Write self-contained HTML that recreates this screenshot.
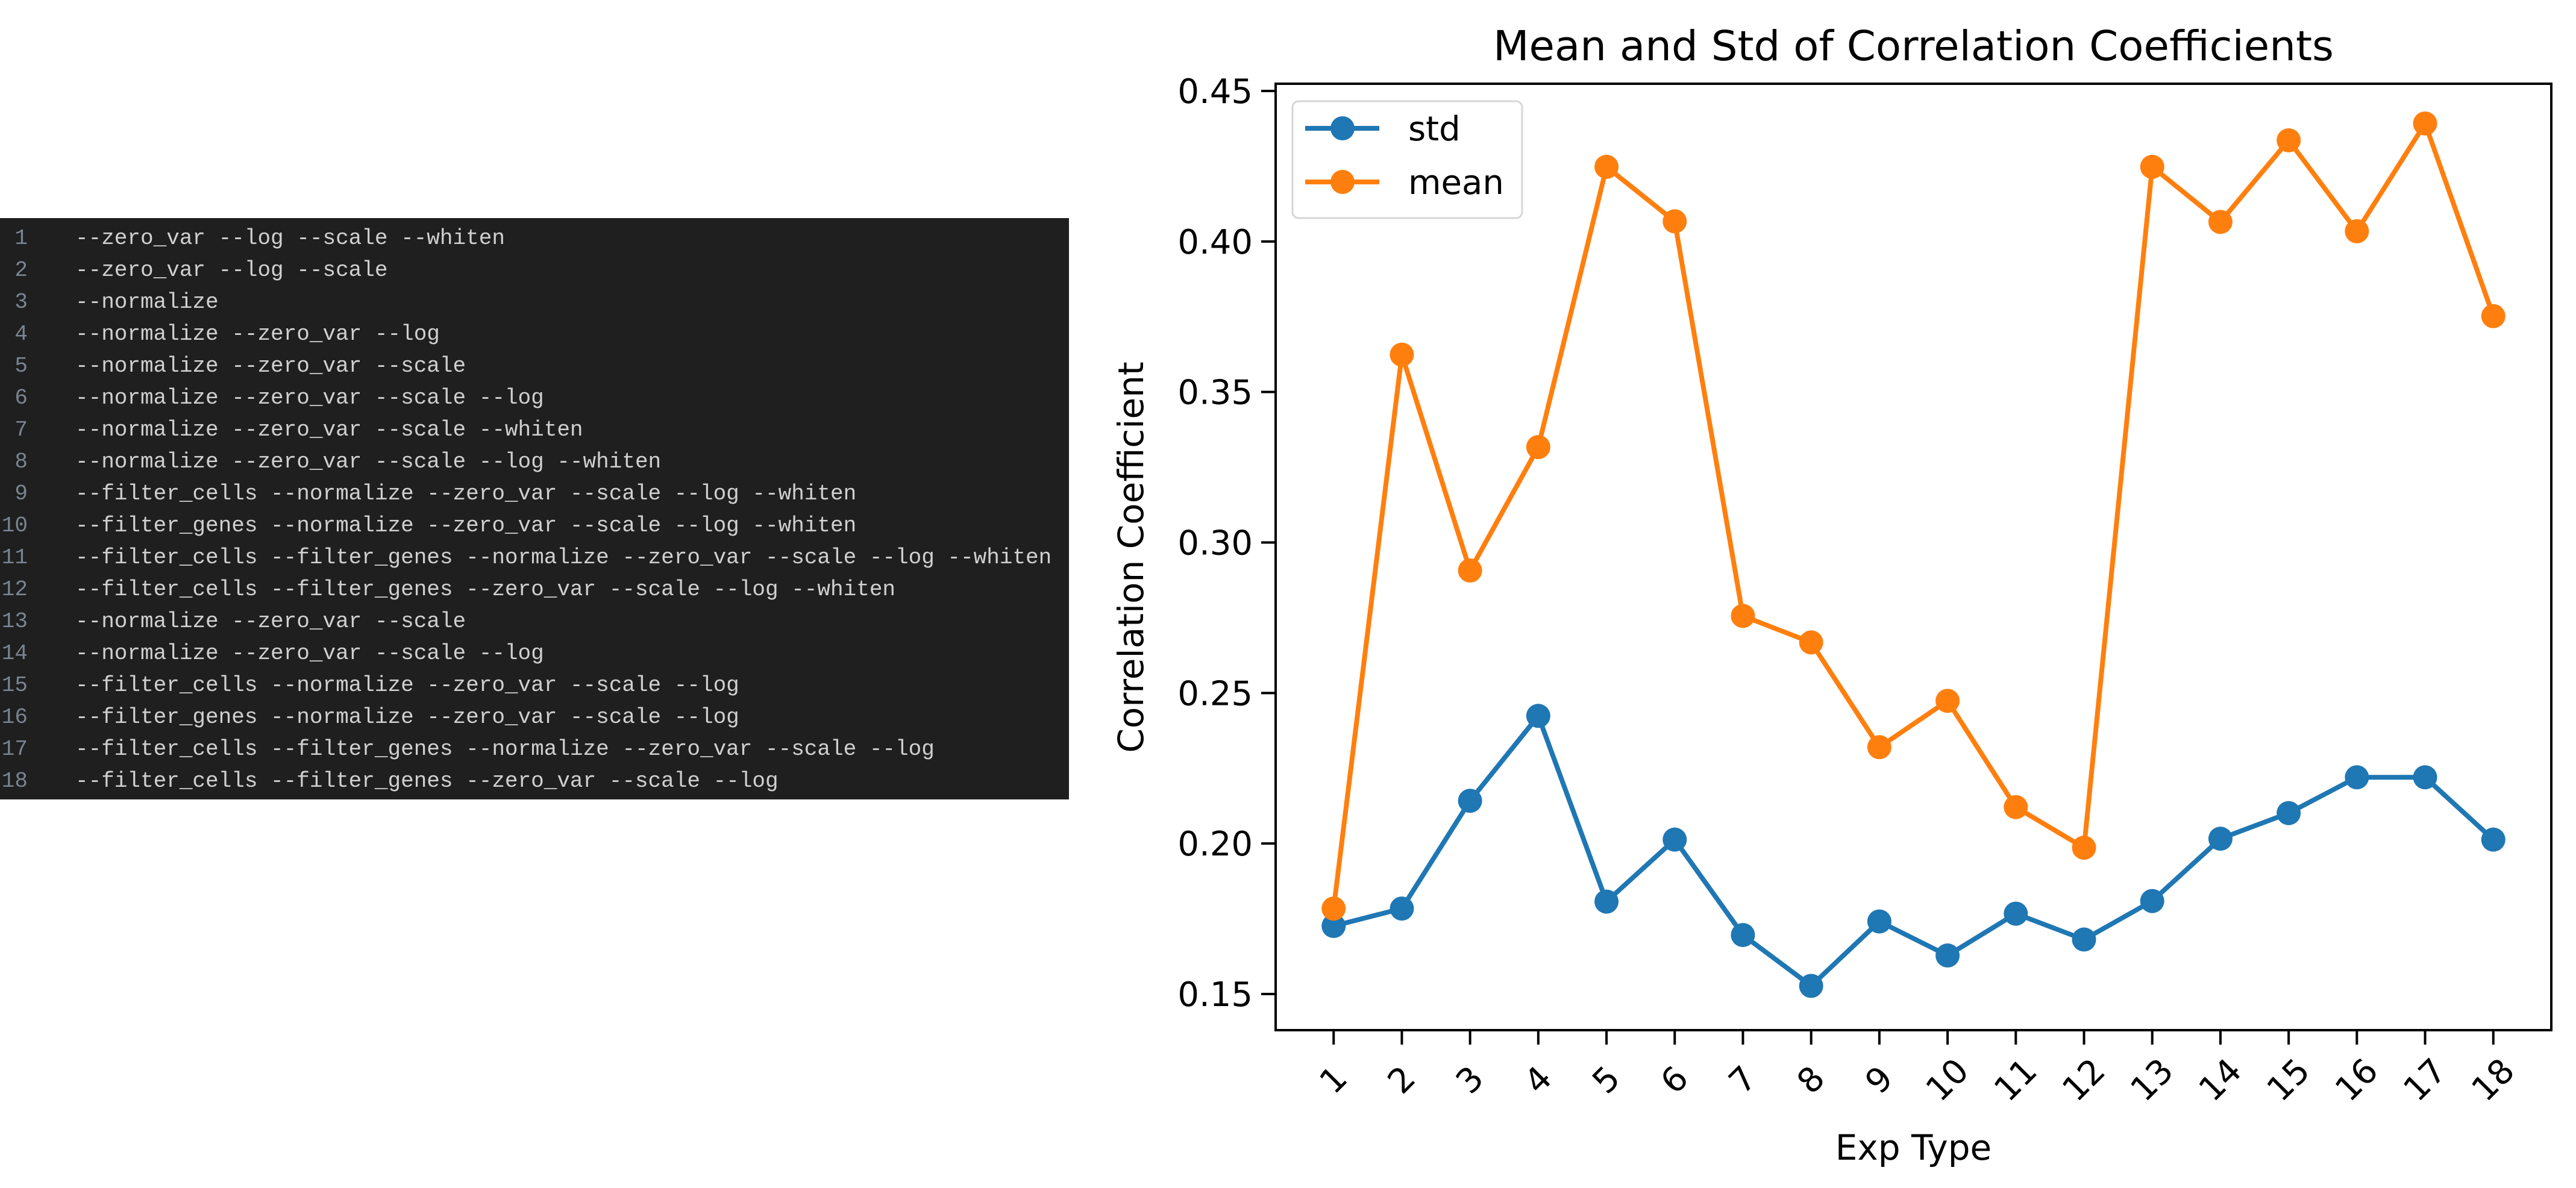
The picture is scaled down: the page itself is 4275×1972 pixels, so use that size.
<!DOCTYPE html>
<html><head><meta charset="utf-8"><style>
html,body{margin:0;padding:0;background:#fff;}
body{width:4275px;height:1972px;position:relative;overflow:hidden;}
#code{position:absolute;left:0;top:362px;width:1774px;height:965px;background:#1e1f1e;}
.ln{position:absolute;left:0;height:53px;font-family:"Liberation Mono","DejaVu Sans Mono",monospace;font-size:36px;white-space:pre;}
.num{position:absolute;left:0;width:46px;text-align:right;color:#7b8491;}
.txt{position:absolute;left:125px;color:#d0d0d0;}
svg{position:absolute;left:0;top:0;}
</style></head><body>
<div id="code"></div>
<svg id="chart" width="4275" height="1972"></svg>
<script>
const lines = [
"--zero_var --log --scale --whiten",
"--zero_var --log --scale",
"--normalize",
"--normalize --zero_var --log",
"--normalize --zero_var --scale",
"--normalize --zero_var --scale --log",
"--normalize --zero_var --scale --whiten",
"--normalize --zero_var --scale --log --whiten",
"--filter_cells --normalize --zero_var --scale --log --whiten",
"--filter_genes --normalize --zero_var --scale --log --whiten",
"--filter_cells --filter_genes --normalize --zero_var --scale --log --whiten",
"--filter_cells --filter_genes --zero_var --scale --log --whiten",
"--normalize --zero_var --scale",
"--normalize --zero_var --scale --log",
"--filter_cells --normalize --zero_var --scale --log",
"--filter_genes --normalize --zero_var --scale --log",
"--filter_cells --filter_genes --normalize --zero_var --scale --log",
"--filter_cells --filter_genes --zero_var --scale --log"
];
const categories = [1,2,3,4,5,6,7,8,9,10,11,12,13,14,15,16,17,18];
const stdValues = [0.1726,0.1784,0.2142,0.2424,0.1807,0.2013,0.1696,0.1527,0.1741,0.1628,0.1767,0.1681,0.1809,0.2016,0.2101,0.2220,0.2220,0.2013];
const meanValues = [0.1784,0.3624,0.2907,0.3317,0.4248,0.4067,0.2756,0.2668,0.2320,0.2474,0.2121,0.1986,0.4248,0.4065,0.4336,0.4034,0.4392,0.3752];
const yTicks = [0.15,0.20,0.25,0.30,0.35,0.40,0.45];
const yTickLabels = ["0.15","0.20","0.25","0.30","0.35","0.40","0.45"];

const code = document.getElementById('code');
lines.forEach((t,i)=>{
  const d = document.createElement('div');
  d.className='ln';
  d.style.top = (13 + i*53) + 'px';
  
  
  const n = document.createElement('span'); n.className='num'; n.textContent = i+1;
  const s = document.createElement('span'); s.className='txt'; s.textContent = t;
  d.appendChild(n); d.appendChild(s); code.appendChild(d);
});

const NS='http://www.w3.org/2000/svg';
const svg=document.getElementById('chart');
const L=2117,R=4234,T=139,B=1710;
const unit=(R-L)/18.7;
const xs = v => L + (v - 1 + 0.85)*unit;
const ys = v => 151 + (0.45 - v)*(1499/0.30);
function el(tag, attrs, name, txt){
  const e=document.createElementNS(NS,tag);
  for(const k in attrs) e.setAttribute(k, attrs[k]);
  
  
  if(txt!==undefined) e.textContent=txt;
  svg.appendChild(e); return e;
}
const F='"DejaVu Sans","Liberation Sans",sans-serif';
el('text',{x:(L+R)/2,y:100,'text-anchor':'middle','font-family':F,'font-size':69,fill:'#000'},'chart-title','Mean and Std of Correlation Coefficients');
yTicks.forEach((v,i)=>{
  el('line',{x1:L-24,x2:L,y1:ys(v),y2:ys(v),stroke:'#000','stroke-width':4},'y-tick');
  el('text',{x:L-38,y:ys(v)+20,'text-anchor':'end','font-family':F,'font-size':56,fill:'#000'},'y-tick-label',yTickLabels[i]);
});
categories.forEach(c=>{
  const x=xs(c);
  el('line',{x1:x,x2:x,y1:B,y2:B+24,stroke:'#000','stroke-width':4},'x-tick');
  el('text',{x:x,y:1793,'text-anchor':'middle','dominant-baseline':'central','font-family':F,'font-size':56,fill:'#000',transform:`rotate(-45 ${x} 1793)`},'x-tick-label',String(c));
});
el('text',{x:(L+R)/2,y:1925,'text-anchor':'middle','font-family':F,'font-size':58,fill:'#000'},'x-axis-title','Exp Type');
el('text',{x:1897,y:925,'text-anchor':'middle','font-family':F,'font-size':58,fill:'#000',transform:'rotate(-90 1897 925)'},'y-axis-title','Correlation Coefficient');
function series(vals,color,name){
  const pts=vals.map((v,i)=>xs(categories[i])+','+ys(v)).join(' ');
  el('polyline',{points:pts,fill:'none',stroke:color,'stroke-width':8,'stroke-linejoin':'round'},name+'-line');
  vals.forEach((v,i)=>{
    el('circle',{cx:xs(categories[i]),cy:ys(v),r:20,fill:color},name+'-point-'+categories[i]);
  });
}
series(stdValues,'#1f77b4','std');
series(meanValues,'#ff7f0e','mean');
el('rect',{x:L,y:T,width:R-L,height:B-T,fill:'none',stroke:'#000','stroke-width':4},'plot-frame');
el('rect',{x:2145,y:168,width:381,height:194,rx:10,fill:'#fff','fill-opacity':0.8,stroke:'#d6d6d6','stroke-width':3},'legend-box');
el('line',{x1:2166,x2:2289,y1:213,y2:213,stroke:'#1f77b4','stroke-width':8},'legend-std-line');
el('circle',{cx:2228,cy:213,r:20,fill:'#1f77b4'},'legend-std-marker');
el('text',{x:2337,y:233,'font-family':F,'font-size':56,fill:'#000'},'legend-std-label','std');
el('line',{x1:2166,x2:2289,y1:302,y2:302,stroke:'#ff7f0e','stroke-width':8},'legend-mean-line');
el('circle',{cx:2228,cy:302,r:20,fill:'#ff7f0e'},'legend-mean-marker');
el('text',{x:2337,y:322,'font-family':F,'font-size':56,fill:'#000'},'legend-mean-label','mean');
</script>
</body></html>
